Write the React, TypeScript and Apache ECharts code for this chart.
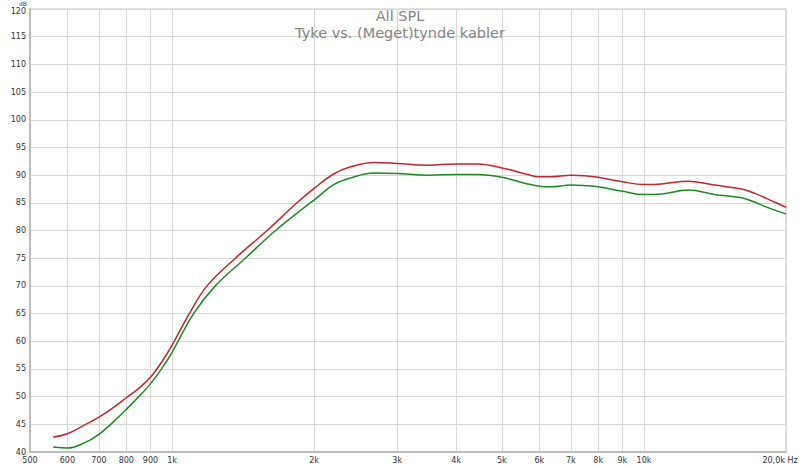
import React, { useEffect, useRef } from "react";
import * as echarts from "echarts";

const titleText = "All SPL";
const subtitleText = "Tyke vs. (Meget)tynde kabler";

const freqTicks = [500, 600, 700, 800, 900, 1000, 2000, 3000, 4000, 5000, 6000, 7000, 8000, 9000, 10000, 20000];
const freqTickLabels = ["500", "600", "700", "800", "900", "1k", "2k", "3k", "4k", "5k", "6k", "7k", "8k", "9k", "10k", "20,0k Hz"];

const redFreq = [560, 600, 650, 700, 750, 800, 850, 900, 950, 1000, 1088, 1186, 1362, 1590, 1840, 2000, 2200, 2390, 2680, 3000, 3480, 4000, 4440, 5000, 5670, 6000, 6350, 7000, 7500, 8000, 9000, 10000, 10900, 12400, 14100, 16100, 17200, 18600, 20000];
const redDb = [42.7, 43.3, 44.8, 46.3, 48.0, 49.8, 51.5, 53.5, 56.2, 59.3, 65.0, 70.0, 75.0, 80.0, 85.0, 87.6, 90.2, 91.5, 92.3, 92.1, 91.8, 92.0, 92.0, 91.3, 90.1, 89.7, 89.7, 90.0, 89.9, 89.6, 88.8, 88.3, 88.4, 88.9, 88.2, 87.5, 86.7, 85.4, 84.2];

const greenFreq = [560, 600, 650, 700, 750, 800, 850, 900, 950, 1000, 1111, 1235, 1430, 1657, 1962, 2000, 2200, 2390, 2680, 3000, 3480, 4000, 4440, 5000, 5670, 6000, 6350, 7000, 7500, 8000, 9000, 10000, 10900, 12400, 14100, 16100, 17200, 18600, 20000];
const greenDb = [40.9, 40.7, 41.6, 43.2, 45.4, 47.7, 50.0, 52.3, 55.0, 58.0, 65.0, 70.0, 75.0, 80.0, 85.0, 85.5, 88.3, 89.5, 90.4, 90.3, 90.0, 90.1, 90.1, 89.6, 88.4, 88.0, 87.9, 88.2, 88.1, 87.9, 87.1, 86.5, 86.6, 87.3, 86.5, 85.9, 85.1, 83.9, 83.0];

const yMin = 40;
const yMax = 120;
const yStep = 5;

const lg = (f: number) => Math.log10(f);

export default function App() {
  const ref = useRef<HTMLDivElement>(null);
  useEffect(() => {
    if (!ref.current) return;
    const chart = echarts.init(ref.current, undefined, { renderer: "svg" });
    const labelFor = (v: number) => {
      const f = Math.pow(10, v);
      let best = 0;
      for (let i = 1; i < freqTicks.length; i++) {
        if (Math.abs(freqTicks[i] - f) < Math.abs(freqTicks[best] - f)) best = i;
      }
      const txt = freqTickLabels[best];
      return best === freqTicks.length - 1 ? `{last|${txt}}` : txt;
    };
    const font = "DejaVu Sans, Verdana, sans-serif";
    chart.setOption({
      animation: false,
      backgroundColor: "#ffffff",
      title: {
        text: titleText,
        subtext: subtitleText,
        left: "center",
        top: 8,
        itemGap: 2,
        textStyle: { fontFamily: font, fontSize: 14.5, fontWeight: "normal", color: "#858585" },
        subtextStyle: { fontFamily: font, fontSize: 14.5, color: "#858585" },
        padding: 0,
      },
      grid: {
        left: 30,
        right: 14,
        top: 9,
        bottom: 13,
        show: true,
        borderColor: "#c4c4c4",
        borderWidth: 1,
        outerBoundsMode: "none",
        containLabel: false,
      },
      graphic: [
        {
          type: "text",
          left: 19,
          top: 0,
          style: { text: "dB", fontFamily: font, fontSize: 6, fill: "#444" },
        },
      ],
      xAxis: {
        type: "value",
        min: lg(500),
        max: lg(20000),
        axisLine: { show: true, lineStyle: { color: "#bdbdbd", width: 2 } },
        axisTick: { show: false, customValues: freqTicks.map(lg) },
        axisLabel: {
          customValues: freqTicks.map(lg),
          formatter: (v: number) => labelFor(v),
          fontFamily: font,
          fontSize: 8,
          color: "#333",
          margin: 4,
          hideOverlap: false,
          rich: {
            last: { fontFamily: font, fontSize: 8, color: "#333", padding: [0, 12, 0, 0] },
          },
        },
        splitLine: { show: true, lineStyle: { color: "#d6d6d6", width: 1 } },
      },
      yAxis: {
        type: "value",
        min: yMin,
        max: yMax,
        interval: yStep,
        axisLine: { show: true, lineStyle: { color: "#bdbdbd", width: 2 } },
        axisTick: { show: false },
        axisLabel: {
          fontFamily: font,
          fontSize: 8,
          color: "#333",
          margin: 4,
          formatter: (v: number) => (v === yMax ? `{top|${v}}` : `${v}`),
          rich: {
            top: { fontFamily: font, fontSize: 8, color: "#333", padding: [4, 0, 0, 0] },
          },
        },
        splitLine: { show: true, lineStyle: { color: "#d6d6d6", width: 1 } },
      },
      series: [
        {
          type: "line",
          name: "Tyke",
          data: redFreq.map((f, i) => [lg(f), redDb[i]]),
          showSymbol: false,
          smooth: 0.4,
          lineStyle: { color: "#c1272d", width: 1.5 },
          z: 3,
        },
        {
          type: "line",
          name: "Tynde",
          data: greenFreq.map((f, i) => [lg(f), greenDb[i]]),
          showSymbol: false,
          smooth: 0.4,
          lineStyle: { color: "#1f8a24", width: 1.5 },
          z: 2,
        },
      ],
    });
    return () => chart.dispose();
  }, []);
  return <div ref={ref} style={{ width: 800, height: 465, position: "absolute", left: 0, top: 0 }} />;
}
